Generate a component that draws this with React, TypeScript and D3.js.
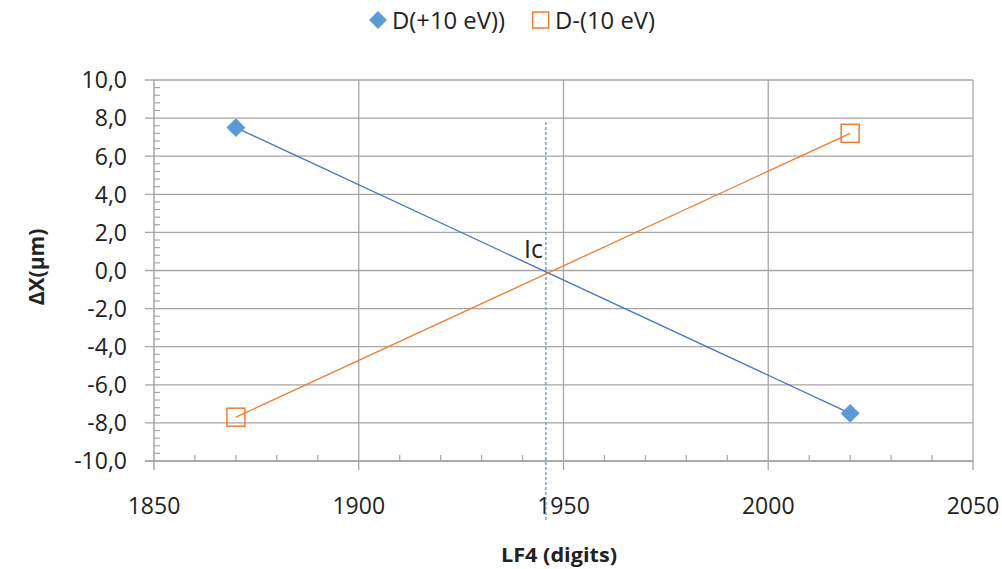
import React from "react";
import * as d3 from "d3";

const xPlus = [1870, 2020];
const yPlus = [7.5, -7.5];
const xMinus = [1870, 2020];
const yMinus = [-7.7, 7.2];
const xTicks = [1850, 1900, 1950, 2000, 2050];
const yTicks = [-10, -8, -6, -4, -2, 0, 2, 4, 6, 8, 10];
const icX = 1945.7;
const icTop = 7.8;
const legendLabels = ["D(+10 eV))", "D-(10 eV)"];

const W = 1002, H = 569;
const left = 154, right = 973, top = 80, bottom = 461;
const FONT = "'Open Sans', 'Liberation Sans', sans-serif";
const GRID = "#A6A6A6";
const BLUE = "#5B9BD5";
const BLUE_LINE = "#4472C4";
const ORANGE = "#ED7D31";

export default function App() {
  const x = d3.scaleLinear().domain([1850, 2050]).range([left, right]);
  const y = d3.scaleLinear().domain([-10, 10]).range([bottom, top]);
  const line = d3.line<[number, number]>().x(d => x(d[0])).y(d => y(d[1]));
  const plusPts: [number, number][] = xPlus.map((v, i) => [v, yPlus[i]]);
  const minusPts: [number, number][] = xMinus.map((v, i) => [v, yMinus[i]]);
  const yMinor = d3.range(-10, 10.001, 0.4).filter(v => Math.abs(v / 2 - Math.round(v / 2)) > 0.01);
  const xMinor = d3.range(1850, 2050.001, 10).filter(v => v % 50 !== 0);
  const fmt = (v: number) => v.toFixed(1).replace(".", ",");

  return (
    <svg width={W} height={H} style={{ position: "absolute", left: 0, top: 0, background: "#fff" }}>
      {yTicks.map(t => (
        <line key={"hg" + t} x1={left - 9} x2={right} y1={y(t)} y2={y(t)} stroke={GRID} strokeWidth={1.3} />
      ))}
      {xTicks.slice(1).map(t => (
        <line key={"vg" + t} x1={x(t)} x2={x(t)} y1={top} y2={bottom + 9} stroke={GRID} strokeWidth={1.3} />
      ))}
      <line x1={left} x2={left} y1={top} y2={bottom + 9} stroke={GRID} strokeWidth={1.5} />
      <line x1={left - 9} x2={right} y1={bottom} y2={bottom} stroke={GRID} strokeWidth={1.5} />
      {yMinor.map(t => (
        <line key={"ym" + t} x1={left} x2={left + 6} y1={y(t)} y2={y(t)} stroke={GRID} strokeWidth={1.2} />
      ))}
      {xMinor.map(t => (
        <line key={"xm" + t} x1={x(t)} x2={x(t)} y1={bottom} y2={bottom - 6} stroke={GRID} strokeWidth={1.2} />
      ))}
      {yTicks.map(t => (
        <text key={"yl" + t} x={127} y={y(t) + 8.3} textAnchor="end" fontFamily={FONT} fontSize={23} fill="#222">{fmt(t)}</text>
      ))}
      {xTicks.map(t => (
        <text key={"xl" + t} x={x(t)} y={514} textAnchor="middle" fontFamily={FONT} fontSize={23} fill="#222">{t}</text>
      ))}
      <line x1={x(icX)} x2={x(icX)} y1={y(icTop)} y2={520} stroke={BLUE} strokeWidth={1.3} strokeDasharray="3,2" />
      <text x={543} y={258} textAnchor="end" fontFamily={FONT} fontSize={25} fill="#222">Ic</text>
      <path d={line(plusPts) || ""} fill="none" stroke={BLUE_LINE} strokeWidth={1.3} />
      <path d={line(minusPts) || ""} fill="none" stroke={ORANGE} strokeWidth={1.3} />
      {plusPts.map((p, i) => (
        <rect key={"pm" + i} x={x(p[0]) - 6.7} y={y(p[1]) - 6.7} width={13.4} height={13.4} fill={BLUE}
          transform={`rotate(45 ${x(p[0])} ${y(p[1])})`} />
      ))}
      {minusPts.map((p, i) => (
        <rect key={"mm" + i} x={x(p[0]) - 9} y={y(p[1]) - 9} width={18} height={18} fill="none" stroke={ORANGE} strokeWidth={1.5} />
      ))}
      <rect x={378 - 6.3} y={20 - 6.3} width={12.6} height={12.6} fill={BLUE} transform="rotate(45 378 20)" />
      <text x={392} y={29.3} fontFamily={FONT} fontSize={23} fill="#222" textLength={113} lengthAdjust="spacingAndGlyphs">{legendLabels[0]}</text>
      <rect x={540.7 - 8} y={20 - 8} width={16} height={16} fill="none" stroke={ORANGE} strokeWidth={1.5} />
      <text x={555} y={29.3} fontFamily={FONT} fontSize={23} fill="#222" textLength={100} lengthAdjust="spacingAndGlyphs">{legendLabels[1]}</text>
      <text x={501} y={562} fontFamily={FONT} fontSize={20} fontWeight="bold" fill="#222" textLength={116} lengthAdjust="spacingAndGlyphs">LF4 (digits)</text>
      <text transform={`translate(44 267) rotate(-90)`} textAnchor="middle" fontFamily={FONT} fontSize={21} fontWeight="bold" fill="#222">ΔX(µm)</text>
    </svg>
  );
}
